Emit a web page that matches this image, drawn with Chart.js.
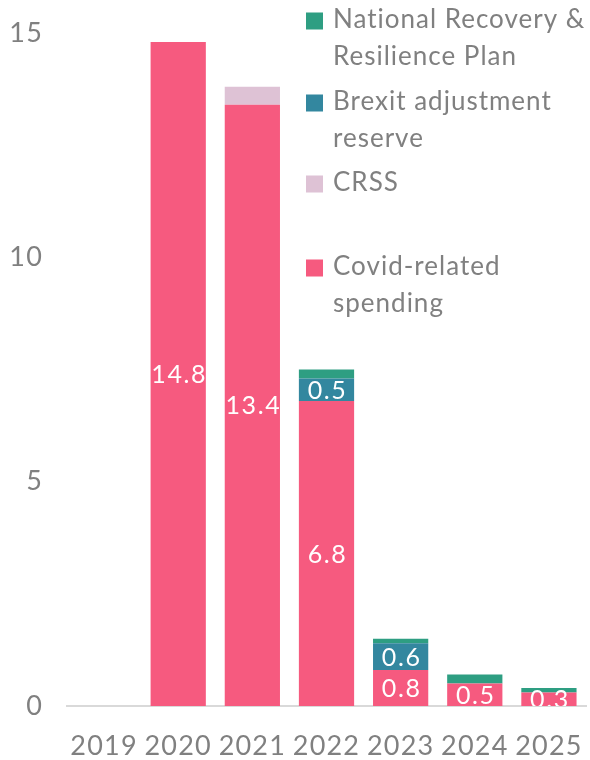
<!DOCTYPE html>
<html>
<head>
<meta charset="utf-8">
<script src="https://cdn.jsdelivr.net/npm/chart.js@4/dist/chart.umd.min.js"></script>
<style>
  html, body { margin: 0; padding: 0; background: #ffffff; }
  #wrap { width: 590px; height: 760px; position: relative; }
</style>
</head>
<body>
<div id="wrap"><canvas id="c" width="590" height="760"></canvas></div>
<script>
// Years on the horizontal axis
const years = ['2019', '2020', '2021', '2022', '2023', '2024', '2025'];

// Spending by source, per year (stacked bottom to top)
const covidSpending = [0, 14.8, 13.4, 6.8, 0.8, 0.5, 0.3];
const crss          = [0, 0, 0.4, 0, 0, 0, 0];
const brexitReserve = [0, 0, 0, 0.5, 0.6, 0, 0];
const nrrp          = [0, 0, 0, 0.2, 0.1, 0.2, 0.1];

// Vertical axis ticks
const yTicks = [0, 5, 10, 15];

// Legend entries, top to bottom
const legendNrrp   = ['National Recovery &', 'Resilience Plan'];
const legendBrexit = ['Brexit adjustment', 'reserve'];
const legendCrss   = ['CRSS'];
const legendCovid  = ['Covid-related', 'spending'];

const FONT = 'Lato, "Open Sans", sans-serif';
const GREY = '#808080';
const COLORS = {
  covid: '#F65A7F',
  crss: '#DEC2D5',
  brexit: '#33879F',
  nrrp: '#2E9E82'
};

// Slightly wider text tracking for all canvas text
const tracking = {
  id: 'tracking',
  beforeDraw(chart) { chart.ctx.letterSpacing = '1.2px'; }
};

// White value labels centred in the segments that carry them
const segmentLabels = {
  id: 'segmentLabels',
  afterDatasetsDraw(chart) {
    const { ctx, chartArea } = chart;
    ctx.save();
    ctx.beginPath();
    ctx.rect(chartArea.left, chartArea.top, chartArea.right - chartArea.left, chartArea.bottom - chartArea.top);
    ctx.clip();
    ctx.fillStyle = '#ffffff';
    ctx.font = '25px ' + FONT;
    ctx.letterSpacing = '1.6px';
    ctx.textAlign = 'center';
    ctx.textBaseline = 'middle';
    chart.data.datasets.forEach((ds, di) => {
      if (!ds.showValue) return;
      const meta = chart.getDatasetMeta(di);
      meta.data.forEach((bar, i) => {
        const v = ds.data[i];
        if (!v) return;
        const p = bar.getProps(['x', 'y', 'base'], true);
        ctx.fillText(v.toFixed(1), p.x + 1, (p.y + p.base) / 2 + 1);
      });
    });
    ctx.restore();
  }
};

// Legend drawn in the upper right corner of the plot
const sideLegend = {
  id: 'sideLegend',
  afterDraw(chart, args, opts) {
    const { ctx } = chart;
    ctx.save();
    ctx.font = opts.fontSize + 'px ' + FONT;
    ctx.letterSpacing = '1px';
    ctx.textBaseline = 'middle';
    ctx.textAlign = 'left';
    opts.items.forEach(item => {
      ctx.fillStyle = item.color;
      ctx.fillRect(opts.boxX, item.y - opts.box / 2 + 1, opts.box, opts.box);
      ctx.fillStyle = GREY;
      item.lines.forEach((t, k) => {
        ctx.fillText(t, opts.textX, item.y + k * opts.lineHeight);
      });
    });
    ctx.restore();
  }
};

new Chart(document.getElementById('c'), {
  type: 'bar',
  data: {
    labels: years,
    datasets: [
      { label: 'Covid-related spending', data: covidSpending, backgroundColor: COLORS.covid, showValue: true },
      { label: 'CRSS', data: crss, backgroundColor: COLORS.crss },
      { label: 'Brexit adjustment reserve', data: brexitReserve, backgroundColor: COLORS.brexit, showValue: true },
      { label: 'National Recovery & Resilience Plan', data: nrrp, backgroundColor: COLORS.nrrp }
    ]
  },
  options: {
    responsive: false,
    animation: false,
    devicePixelRatio: 1,
    layout: { padding: { top: 33, right: 4, left: 0, bottom: 0 } },
    datasets: {
      bar: { categoryPercentage: 1, barPercentage: 0.745, borderWidth: 0 }
    },
    scales: {
      x: {
        stacked: true,
        grid: { display: false, drawTicks: false },
        border: { display: true, color: '#D9D9D9', width: 2 },
        ticks: { color: GREY, font: { family: FONT, size: 27 }, padding: 24 },
        afterFit(scale) {
          scale.height = 54;
          scale.paddingLeft = 0;
          scale.paddingRight = 0;
        }
      },
      y: {
        stacked: true,
        min: 0,
        max: 15,
        afterBuildTicks(scale) { scale.ticks = yTicks.map(v => ({ value: v })); },
        grid: { display: false, drawTicks: false },
        border: { display: false },
        ticks: { color: GREY, font: { family: FONT, size: 27 }, padding: 24 },
        afterFit(scale) {
          scale.width = 67;
          scale.paddingTop = 0;
          scale.paddingBottom = 0;
        }
      }
    },
    plugins: {
      legend: { display: false },
      tooltip: { enabled: false },
      sideLegend: {
        boxX: 306, box: 17, textX: 333, fontSize: 26, lineHeight: 37,
        items: [
          { lines: legendNrrp, color: COLORS.nrrp, y: 20 },
          { lines: legendBrexit, color: COLORS.brexit, y: 102 },
          { lines: legendCrss, color: COLORS.crss, y: 183 },
          { lines: legendCovid, color: COLORS.covid, y: 267 }
        ]
      }
    }
  },
  plugins: [tracking, segmentLabels, sideLegend]
});
</script>
</body>
</html>
